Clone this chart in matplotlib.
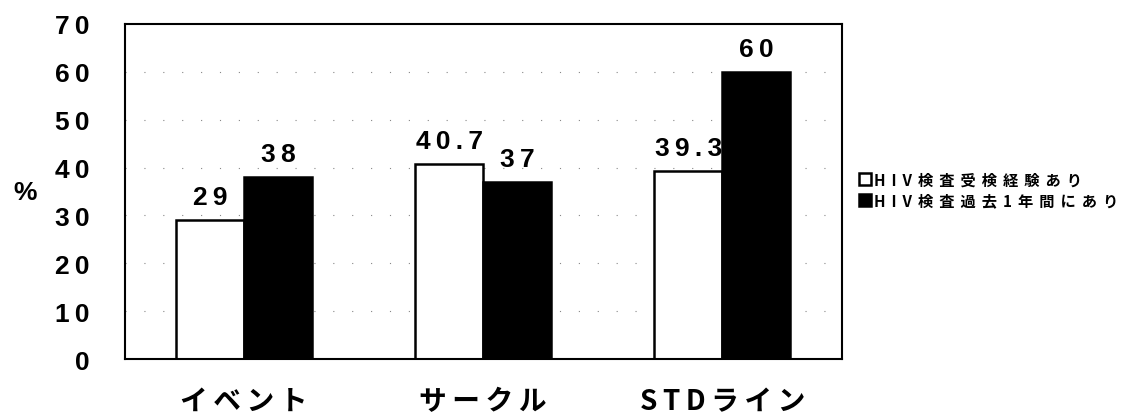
import matplotlib
matplotlib.use("Agg")
import matplotlib.pyplot as plt
import numpy as np

plt.rcParams['font.family'] = ['Noto Sans CJK JP', 'DejaVu Sans']

categories = ["イベント", "サークル", "STDライン"]
tested_ever = [29, 40.7, 39.3]
tested_past_year = [38, 37, 60]
series_names = ["HIV検査受検経験あり", "HIV検査過去1年間にあり"]
yticks = [0, 10, 20, 30, 40, 50, 60, 70]

NUM_FONT = ["Liberation Sans", "DejaVu Sans"]


def spaced(s, gap="\u2009"):
    # wide letter spacing like the old office fonts
    return gap.join(s)


fig = plt.figure(figsize=(11.33, 4.14), dpi=100)
ax = fig.add_axes([0.110, 0.130, 0.633, 0.810])

x = np.arange(len(categories))
w = 0.285

# sparse dotted grid lines
for v in yticks[1:-1]:
    ax.axhline(v, color="#888888", lw=0.8, ls=(0, (1, 16)), zorder=0)

b1 = ax.bar(x - w / 2, tested_ever, w, color="white", edgecolor="black",
            linewidth=1.8, label=spaced(series_names[0], "\u2009\u2009"),
            zorder=2)
b2 = ax.bar(x + w / 2, tested_past_year, w, color="black", edgecolor="black",
            linewidth=1.8, label=spaced(series_names[1], "\u2009\u2009"),
            zorder=2)

for bars, vals in ((b1, tested_ever), (b2, tested_past_year)):
    for rect, v in zip(bars, vals):
        ax.annotate(spaced(f"{v:g}"), (rect.get_x() + rect.get_width() / 2, v),
                    xytext=(0, 8), textcoords="offset points",
                    ha="center", va="bottom", fontsize=19, fontweight="bold",
                    family=NUM_FONT)

ax.set_xlim(-0.5, 2.5)
ax.set_ylim(0, 70)
ax.set_yticks(yticks)
ax.set_yticklabels([spaced(str(v)) for v in yticks], fontsize=19,
                   fontweight="bold", family=NUM_FONT)
ax.tick_params(axis="y", length=0, pad=25)
ax.set_xticks(x)
ax.set_xticklabels([spaced(c, "\u2009") for c in categories], fontsize=20,
                   fontweight="bold")
ax.tick_params(axis="x", length=0, pad=20)

for s in ax.spines.values():
    s.set_linewidth(1.5)
    s.set_color("black")

fig.text(0.022, 0.535, "%", fontsize=19, fontweight="bold", ha="center",
         va="center", family=NUM_FONT)

ax.legend(loc="center left", bbox_to_anchor=(1.005, 0.505), frameon=False,
          handlelength=0.8, handleheight=0.8, handletextpad=0.2,
          labelspacing=0.35, prop={"weight": "bold", "size": 11})

fig.savefig("out.png", dpi=100, facecolor="white")
